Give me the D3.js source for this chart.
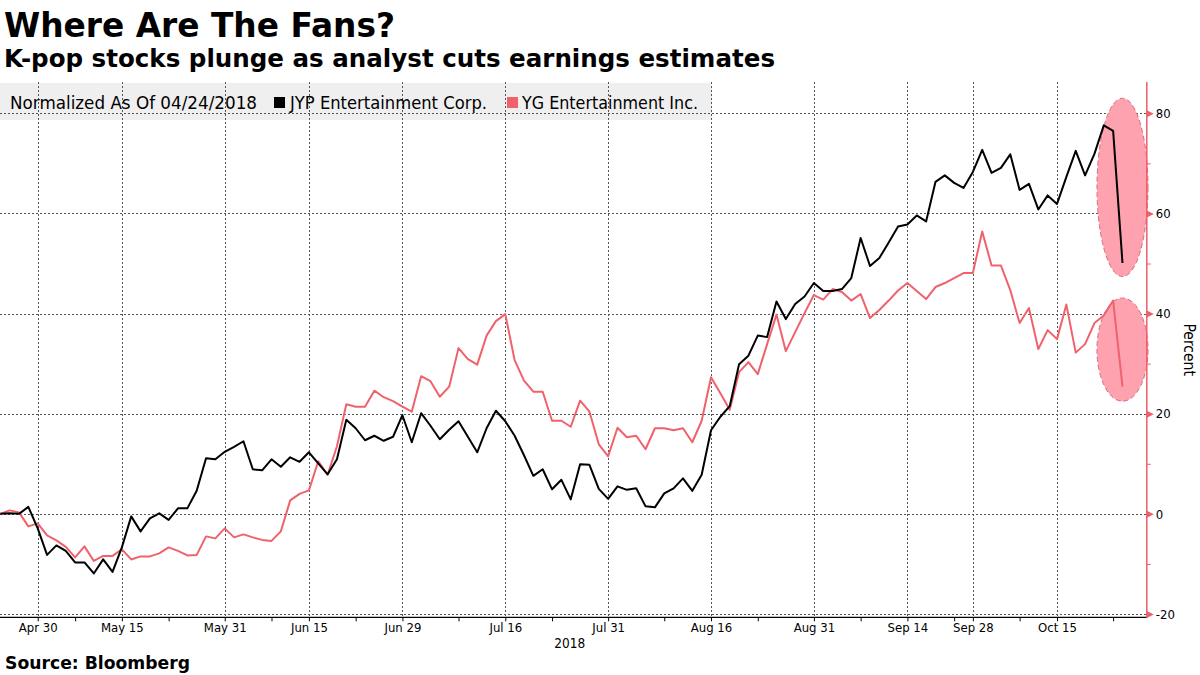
<!DOCTYPE html>
<html>
<head>
<meta charset="utf-8">
<script src="https://cdn.jsdelivr.net/npm/d3@7"></script>
<style>
  body { margin: 0; background: #fff; }
  svg { display: block; }
  text { font-family: "DejaVu Sans", sans-serif; }
  .cond { font-family: "DejaVu Sans Condensed", "DejaVu Sans", sans-serif; }
</style>
</head>
<body>
<svg id="chart" width="1200" height="675"></svg>
<script>
// ---------------- DATA ----------------
const tradingDays = [
  "2018-04-24","2018-04-25","2018-04-26","2018-04-27","2018-04-30","2018-05-02","2018-05-03","2018-05-04",
  "2018-05-08","2018-05-09","2018-05-10","2018-05-11","2018-05-14","2018-05-15","2018-05-16","2018-05-17",
  "2018-05-18","2018-05-21","2018-05-23","2018-05-24","2018-05-25","2018-05-28","2018-05-29","2018-05-30",
  "2018-05-31","2018-06-01","2018-06-04","2018-06-05","2018-06-07","2018-06-08","2018-06-11","2018-06-12",
  "2018-06-14","2018-06-15","2018-06-18","2018-06-19","2018-06-20","2018-06-21","2018-06-22","2018-06-25",
  "2018-06-26","2018-06-27","2018-06-28","2018-06-29","2018-07-02","2018-07-03","2018-07-04","2018-07-05",
  "2018-07-06","2018-07-09","2018-07-10","2018-07-11","2018-07-12","2018-07-13","2018-07-16","2018-07-17",
  "2018-07-18","2018-07-19","2018-07-20","2018-07-23","2018-07-24","2018-07-25","2018-07-26","2018-07-27",
  "2018-07-30","2018-07-31","2018-08-01","2018-08-02","2018-08-03","2018-08-06","2018-08-07","2018-08-08",
  "2018-08-09","2018-08-10","2018-08-13","2018-08-14","2018-08-16","2018-08-17","2018-08-20","2018-08-21",
  "2018-08-22","2018-08-23","2018-08-24","2018-08-27","2018-08-28","2018-08-29","2018-08-30","2018-08-31",
  "2018-09-03","2018-09-04","2018-09-05","2018-09-06","2018-09-07","2018-09-10","2018-09-11","2018-09-12",
  "2018-09-13","2018-09-14","2018-09-17","2018-09-18","2018-09-19","2018-09-20","2018-09-21","2018-09-27",
  "2018-09-28","2018-10-01","2018-10-02","2018-10-04","2018-10-05","2018-10-08","2018-10-10","2018-10-11",
  "2018-10-12","2018-10-15","2018-10-16","2018-10-17","2018-10-18","2018-10-19","2018-10-22","2018-10-23",
  "2018-10-24"
];

// JYP Entertainment Corp. (percent, normalized to 04/24/2018)
const jypValues = [
  0, 0.1, 0, 1.4, -2.9, -8.2, -6.3, -7.4, -9.7, -9.7, -11.9, -9.1, -11.6, -6.7, -0.5, -3.5,
  -0.9, 0.1, -1.2, 1.1, 1.1, 4.6, 11.1, 10.9, 12.4, 13.4, 14.5, 8.9, 8.7, 10.9, 9.4, 11.3,
  10.4, 12.3, 10.1, 7.9, 10.9, 18.8, 17.1, 14.7, 15.6, 14.6, 15.4, 19.7, 14.3, 20.1, 17.6, 14.9,
  16.8, 18.5, 15.4, 12.3, 17.1, 20.6, 18.5, 15.6, 11.7, 7.6, 8.9, 4.9, 6.8, 2.9, 9.9, 9.8,
  5.0, 3.0, 5.5, 4.8, 5.1, 1.5, 1.3, 4.1, 5.1, 7.1, 4.6, 7.8, 16.7, 19.4, 21.5, 29.9,
  31.6, 35.6, 35.3, 42.4, 38.9, 41.9, 43.4, 46.1, 44.5, 44.5, 44.9, 47.1, 55.1, 49.5, 51.1, 54.2,
  57.4, 57.8, 59.6, 58.4, 66.3, 67.6, 66.1, 65.1, 68.3, 72.7, 68.1, 69.1, 71.8, 64.7, 65.9, 60.8,
  63.6, 61.9, 67.3, 72.5, 67.6, 71.9, 77.6, 76.5, 50.1
];

// YG Entertainment Inc. (percent, normalized to 04/24/2018)
const ygValues = [
  0, 0.7, 0.3, -2.5, -1.9, -4.3, -5.3, -6.6, -8.7, -6.5, -9.4, -8.4, -8.4, -7.1, -9.1, -8.5,
  -8.5, -7.9, -6.7, -7.4, -8.3, -8.2, -4.5, -4.9, -2.9, -4.7, -4.1, -4.7, -5.2, -5.4, -3.5, 2.7,
  4.0, 4.7, 10.5, 7.8, 13.5, 21.9, 21.4, 21.4, 24.6, 23.3, 22.5, 21.4, 20.4, 27.5, 26.5, 23.4,
  25.4, 33.1, 30.9, 29.8, 35.6, 38.5, 39.9, 30.7, 26.6, 24.4, 24.4, 18.6, 18.6, 17.4, 22.6, 20.4,
  13.9, 11.5, 17.2, 15.3, 15.6, 12.9, 17.1, 17.1, 16.7, 17.1, 14.3, 18.6, 27.3, 24.1, 20.8, 28.3,
  30.3, 27.9, 33.9, 39.8, 32.5, 36.3, 40.1, 43.7, 42.8, 44.9, 44.3, 42.6, 43.9, 39.1, 40.7, 42.6,
  44.6, 46.1, 44.5, 42.9, 45.3, 46.1, 47.1, 48.1, 48.1, 56.4, 49.6, 49.6, 44.7, 38.1, 41.1, 32.9,
  36.7, 34.9, 41.8, 32.2, 33.9, 38.1, 39.6, 42.6, 25.4
];

const seriesNames = ["JYP Entertainment Corp.", "YG Entertainment Inc."];
const seriesColors = ["#000000", "#f0626b"];

// x-axis labels (trading-day axis)
const xTickDates  = ["2018-04-30","2018-05-15","2018-05-31","2018-06-15","2018-06-29","2018-07-16",
                     "2018-07-31","2018-08-16","2018-08-31","2018-09-14","2018-09-28","2018-10-15"];
const xTickLabels = ["Apr 30","May 15","May 31","Jun 15","Jun 29","Jul 16",
                     "Jul 31","Aug 16","Aug 31","Sep 14","Sep 28","Oct 15"];
const xMinorDates = ["2018-05-08","2018-05-23","2018-06-08","2018-06-22","2018-07-09","2018-07-23",
                     "2018-08-08","2018-08-23","2018-09-07","2018-09-21","2018-10-08","2018-10-23"];
const yearLabel = "2018";

const yTicks = [-20, 0, 20, 40, 60, 80];
const yMinorTicks = [-10, 10, 30, 50, 70];

// highlight ellipses around the final drop (center value, half-height in percent)
const highlightCenters = [65.2, 32.8];
const highlightHalfHeights = [17.8, 10.3];
const highlightHalfWidthDays = 2.73;

// ---------------- CHART ----------------
const svg = d3.select("#chart");
const plotTop = 82, plotBottom = 617.3;

const x = d3.scaleLinear().domain([0, 122.6]).range([0.3, 1146.8]);
const y = d3.scaleLinear().domain([-20, 80]).range([614, 113.3]);
const xRight = x.range()[1];
const dayIndex = d => tradingDays.indexOf(d);

// legend background band
svg.append("rect").attr("x", 0).attr("y", 83).attr("width", 712).attr("height", 37)
  .attr("fill", "#efefef");

// gridlines
const grid = svg.append("g").attr("stroke", "#555").attr("stroke-width", 1)
  .attr("stroke-dasharray", "2,2").attr("shape-rendering", "crispEdges");
grid.selectAll("line.h").data(yTicks).join("line").attr("class", "h")
  .attr("x1", 0).attr("x2", xRight)
  .attr("y1", d => Math.round(y(d)) + 0.5).attr("y2", d => Math.round(y(d)) + 0.5);
grid.selectAll("line.v").data(xTickDates).join("line").attr("class", "v")
  .attr("x1", d => Math.round(x(dayIndex(d))) + 0.5).attr("x2", d => Math.round(x(dayIndex(d))) + 0.5)
  .attr("y1", plotTop).attr("y2", plotBottom);

// highlight ellipses
const lastIdx = tradingDays.length - 1;
svg.append("g").selectAll("ellipse").data(highlightCenters).join("ellipse")
  .attr("cx", x(lastIdx))
  .attr("cy", d => y(d))
  .attr("rx", x(lastIdx + highlightHalfWidthDays) - x(lastIdx))
  .attr("ry", (d, i) => y(d - highlightHalfHeights[i]) - y(d))
  .attr("fill", "#ffa2b0")
  .attr("stroke", "#d86a7a")
  .attr("stroke-width", 1)
  .attr("stroke-dasharray", "5,3");

// lines
const line = d3.line().x((d, i) => x(i)).y(d => y(d));
const allSeries = [ygValues, jypValues];
const allColors = [seriesColors[1], seriesColors[0]];
svg.append("g").selectAll("path").data(allSeries).join("path")
  .attr("d", d => line(d))
  .attr("fill", "none")
  .attr("stroke", (d, i) => allColors[i])
  .attr("stroke-width", 2)
  .attr("stroke-linejoin", "round");

// bottom axis
const xAxis = d3.axisBottom(x)
  .tickValues(xTickDates.map(dayIndex))
  .tickFormat((d, i) => xTickLabels[i])
  .tickSize(4).tickSizeOuter(0);
const gx = svg.append("g").attr("transform", `translate(0,${plotBottom})`).call(xAxis);
gx.select(".domain").attr("stroke", "#000").attr("stroke-width", 1.3)
  .attr("d", `M0,0H${xRight}`);
gx.selectAll(".tick line").attr("stroke", "#000");
gx.selectAll(".tick text").attr("class", "cond").attr("y", 15).attr("dy", 0)
  .attr("font-size", 13).attr("fill", "#000").attr("font-family", null);

const xMinorAxis = d3.axisBottom(x).tickValues(xMinorDates.map(dayIndex))
  .tickFormat("").tickSize(4).tickSizeOuter(0);
const gxm = svg.append("g").attr("transform", `translate(0,${plotBottom})`).call(xMinorAxis);
gxm.select(".domain").remove();
gxm.selectAll(".tick line").attr("stroke", "#000");

svg.append("text").attr("class", "cond")
  .attr("x", (x(dayIndex("2018-07-16")) + x(dayIndex("2018-07-31"))) / 2 + 13)
  .attr("y", 648).attr("text-anchor", "middle").attr("font-size", 13.5).text(yearLabel);

// right axis
const axisColor = "#ef5f69";
const yAxis = d3.axisRight(y).tickValues(yTicks).tickSize(0).tickPadding(9)
  .tickFormat(d => d);
const gy = svg.append("g").attr("transform", `translate(${xRight},0)`).call(yAxis);
gy.select(".domain").attr("stroke", axisColor).attr("stroke-width", 1.5)
  .attr("d", `M0,${plotTop}V${plotBottom}`);
gy.selectAll(".tick text").attr("class", "cond").attr("font-size", 13)
  .attr("fill", "#000").attr("font-family", null);
gy.selectAll(".tick").append("path").attr("d", "M0,-3.5L7,0L0,3.5Z").attr("fill", axisColor);

const yMinorAxis = d3.axisRight(y).tickValues(yMinorTicks).tickSize(4).tickFormat("");
const gym = svg.append("g").attr("transform", `translate(${xRight},0)`).call(yMinorAxis);
gym.select(".domain").remove();
gym.selectAll(".tick line").attr("stroke", axisColor);

svg.append("text").attr("class", "cond")
  .attr("transform", `translate(1184,${(y(40) + y(20)) / 2 - 14}) rotate(90)`)
  .attr("text-anchor", "middle").attr("font-size", 15.5).text("Percent");

// titles
svg.append("text").attr("x", 4).attr("y", 37).attr("font-weight", "bold")
  .attr("font-size", 33).attr("textLength", 391).attr("lengthAdjust", "spacingAndGlyphs")
  .text("Where Are The Fans?");
svg.append("text").attr("x", 4).attr("y", 67).attr("font-weight", "bold")
  .attr("font-size", 24).attr("textLength", 771).attr("lengthAdjust", "spacingAndGlyphs")
  .text("K-pop stocks plunge as analyst cuts earnings estimates");

// legend
const legend = svg.append("g").attr("font-size", 17);
legend.append("text").attr("x", 10).attr("y", 109).attr("textLength", 247)
  .attr("lengthAdjust", "spacingAndGlyphs").text("Normalized As Of 04/24/2018");
const legendX = [274, 507];
const legendTextX = [290, 522];
const legendTextW = [197, 176];
seriesNames.forEach((name, i) => {
  legend.append("rect").attr("x", legendX[i]).attr("y", 97).attr("width", 11).attr("height", 11)
    .attr("fill", seriesColors[i]);
  legend.append("text").attr("x", legendTextX[i]).attr("y", 109)
    .attr("textLength", legendTextW[i]).attr("lengthAdjust", "spacingAndGlyphs").text(name);
});

// source
svg.append("text").attr("x", 5).attr("y", 669).attr("font-weight", "bold")
  .attr("font-size", 17).attr("textLength", 185).attr("lengthAdjust", "spacingAndGlyphs")
  .text("Source: Bloomberg");
</script>
</body>
</html>
